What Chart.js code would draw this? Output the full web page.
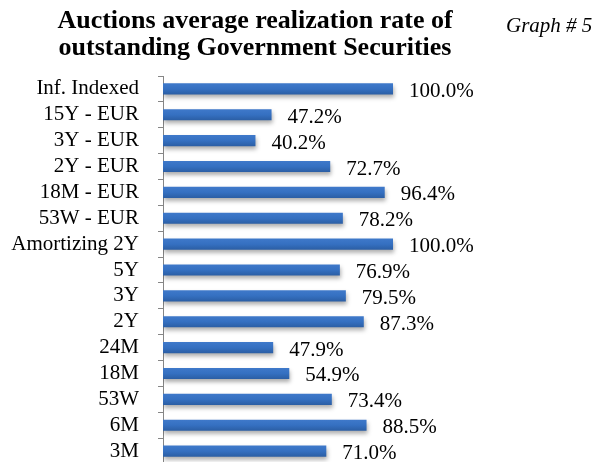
<!DOCTYPE html>
<html>
<head>
<meta charset="utf-8">
<script src="https://cdn.jsdelivr.net/npm/chart.js@4/dist/chart.umd.min.js"></script>
<style>
  html, body { margin: 0; padding: 0; background: #fff; overflow: hidden; }
  #wrap { position: relative; width: 593px; height: 462px; overflow: hidden; }
  #title {
    position: absolute; left: 0; top: 6px; width: 510px;
    text-align: center; font: bold 26px "Liberation Serif", serif;
    line-height: 27px; color: #000;
  }
  #graphNo {
    position: absolute; left: 506px; top: 15px;
    font: italic 21px "Liberation Serif", serif; line-height: 20px; color: #000;
  }
  #myChart { position: absolute; left: 0; top: 0; }
</style>
</head>
<body>
<div id="wrap">
  <canvas id="myChart" width="593" height="466"></canvas>
  <div id="title">Auctions average realization rate of<br>outstanding Government Securities</div>
  <div id="graphNo">Graph # 5</div>
</div>
<script>
let categories = [
    'Inf. Indexed',
    '15Y - EUR',
    '3Y - EUR',
    '2Y - EUR',
    '18M - EUR',
    '53W - EUR',
    'Amortizing 2Y',
    '5Y',
    '3Y',
    '2Y',
    '24M',
    '18M',
    '53W',
    '6M',
    '3M',
];
let rates = [100.0, 47.2, 40.2, 72.7, 96.4, 78.2, 100.0, 76.9, 79.5, 87.3, 47.9, 54.9, 73.4, 88.5, 71.0];

let serif = '"Liberation Serif", "Times New Roman", serif';

// gradient + soft shadow on each bar, like the office chart style
let barLook = {
    id: 'barLook',
    beforeDatasetsDraw(chart) {
        let c = chart.ctx;
        chart.getDatasetMeta(0).data.forEach(function(bar) {
            let h = bar.height;
            let g = c.createLinearGradient(0, bar.y - h / 2, 0, bar.y + h / 2);
            g.addColorStop(0, '#3f79ca');
            g.addColorStop(0.5, '#3570c1');
            g.addColorStop(1, '#2b5ea4');
            // options object is shared between bars, so copy it first
            bar.options = Object.assign({}, bar.options, { backgroundColor: g });
        });
        c.save();
        c.shadowColor = 'rgba(0,0,0,0.32)';
        c.shadowBlur = 4;
        c.shadowOffsetX = 1;
        c.shadowOffsetY = 3;
    },
    afterDatasetsDraw(chart) {
        chart.ctx.restore();
    }
};

// value labels at bar end
let valueLabels = {
    id: 'valueLabels',
    afterDatasetsDraw(chart) {
        let c = chart.ctx;
        c.save();
        c.font = '21px ' + serif;
        c.fillStyle = '#000';
        c.textAlign = 'left';
        c.textBaseline = 'alphabetic';
        chart.getDatasetMeta(0).data.forEach(function(bar, i) {
            c.fillText(rates[i].toFixed(1) + '%', bar.x + 16, bar.y + 8);
        });
        c.restore();
    }
};

let chart1 = new Chart(document.getElementById('myChart').getContext('2d'), {
    type: 'bar',
    data: {
        labels: categories,
        datasets: [{
            label: 'rate',
            data: rates,
            backgroundColor: '#3570c1',
            borderWidth: 0,
            barPercentage: 0.43,
            categoryPercentage: 1.0
        }]
    },
    options: {
        indexAxis: 'y',
        responsive: false,
        animation: false,
        layout: {
            padding: { left: 0, right: 16, top: 76, bottom: 2 }
        },
        plugins: {
            legend: { display: false },
            title: { display: false },
            tooltip: { enabled: false }
        },
        scales: {
            x: {
                display: false,
                min: 0,
                max: 180
            },
            y: {
                afterFit(scale) {
                    scale.width = 163;
                    // tick padding would otherwise push the plot down
                    scale.paddingTop = 0;
                    scale.paddingBottom = 0;
                },
                grid: {
                    offset: true,
                    drawOnChartArea: false,
                    drawTicks: true,
                    tickLength: 5,
                    color: '#868686'
                },
                border: { color: '#868686', width: 1 },
                ticks: {
                    padding: 19,
                    color: '#000',
                    autoSkip: false,
                    font: { family: serif, size: 21 }
                }
            }
        }
    },
    plugins: [barLook, valueLabels]
});
</script>
</body>
</html>
